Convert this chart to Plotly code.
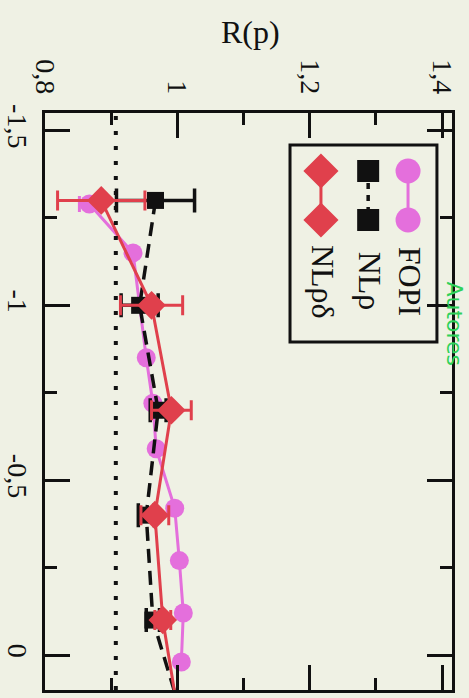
import plotly.graph_objects as go

# ---------------- data ----------------
fopi_y = [-1.29, -1.15, -0.85, -0.72, -0.59, -0.42, -0.27, -0.12, 0.02]
fopi_r = [0.867, 0.933, 0.953, 0.963, 0.968, 0.996, 1.003, 1.009, 1.006]
fopi_err = [0.015, 0, 0, 0, 0, 0, 0, 0, 0]

model_y = [-1.3, -1.0, -0.7, -0.4, -0.1, 0.2]
nlrho_r = [0.967, 0.943, 0.971, 0.953, 0.963, 1.011]
nlrho_err = [0.059, 0.028, 0.012, 0.012, 0.010, 0]
nlrhodelta_r = [0.885, 0.961, 0.991, 0.966, 0.978, 1.004]
nlrhodelta_err = [0.066, 0.047, 0.030, 0.021, 0.012, 0]

ref_r = 0.907

r_ticks = [0.8, 1.0, 1.2, 1.4]
r_ticktext = ["0,8", "1", "1,2", "1,4"]
y_ticks = [-1.5, -1.0, -0.5, 0.0]
y_ticktext = ["-1,5", "-1", "-0,5", "0"]

series_names = ["FOPI", "NLρ", "NLρδ"]

PINK = "#e46fdc"
RED = "#e0404c"
BLACK = "#111111"
BG = "#eff1e4"
FONT = "Liberation Serif"

fig = go.Figure()

fig.add_trace(go.Scatter(
    x=fopi_r, y=fopi_y, mode="lines+markers",
    line=dict(color=PINK, width=3),
    marker=dict(symbol="circle", size=19, color=PINK),
    error_x=dict(type="data", array=fopi_err, color=PINK, thickness=3, width=8),
    showlegend=False))

fig.add_trace(go.Scatter(
    x=nlrho_r, y=model_y, mode="lines+markers",
    line=dict(color=BLACK, width=3.5, dash="14px,8px"),
    marker=dict(symbol="square", size=17, color=BLACK),
    error_x=dict(type="data", array=nlrho_err, color=BLACK, thickness=3.5, width=12),
    showlegend=False))

fig.add_trace(go.Scatter(
    x=nlrhodelta_r, y=model_y, mode="lines+markers",
    line=dict(color=RED, width=3),
    marker=dict(symbol="diamond", size=22, color=RED),
    error_x=dict(type="data", array=nlrhodelta_err, color=RED, thickness=3, width=10),
    showlegend=False))

# ----- hand-built rotated legend (overlay axes in [0,1]) -----
leg_x = [0.892, 0.794, 0.678]
leg_sym_y = [0.8995, 0.8146]
leg_text_y = 0.708
leg_styles = [
    dict(line=dict(color=PINK, width=3), marker=dict(symbol="circle", size=25, color=PINK)),
    dict(line=dict(color=BLACK, width=3.5, dash="6px,6px"), marker=dict(symbol="square", size=22, color=BLACK)),
    dict(line=dict(color=RED, width=3), marker=dict(symbol="diamond", size=27, color=RED)),
]
for lx, st, name in zip(leg_x, leg_styles, series_names):
    fig.add_trace(go.Scatter(x=[lx, lx], y=leg_sym_y, mode="lines+markers",
                             xaxis="x2", yaxis="y2", showlegend=False, **st))
    fig.add_annotation(x=lx + 0.004, y=leg_text_y, xref="paper", yref="paper",
                       text=name, textangle=90, showarrow=False,
                       font=dict(family=FONT, size=32, color=BLACK),
                       xanchor="center", yanchor="middle")

fig.add_shape(type="rect", xref="paper", yref="paper",
              x0=0.602, x1=0.963, y0=0.603, y1=0.9445,
              line=dict(color=BLACK, width=3), fillcolor="rgba(0,0,0,0)")

# dotted reference line
fig.add_shape(type="line", xref="x", yref="paper", x0=ref_r, x1=ref_r, y0=0, y1=1,
              line=dict(color=BLACK, width=4, dash="4px,11px"))

# axis title (upright, above top axis)
fig.add_annotation(x=0.504, y=1.14, xref="paper", yref="paper", text="R(p)",
                   showarrow=False, font=dict(family=FONT, size=32, color=BLACK),
                   xanchor="center", yanchor="middle")

# handwritten green note at right edge
fig.add_annotation(x=1.041, y=0.635, xref="paper", yref="paper", text="Autores",
                   textangle=90, showarrow=False,
                   font=dict(family="DejaVu Sans", size=22, color="#2fd15a"),
                   xanchor="right", yanchor="middle")

axis_common = dict(showgrid=False, zeroline=False, showline=True, linecolor=BLACK,
                   linewidth=3, mirror="allticks", ticks="inside", ticklen=25,
                   tickwidth=3, tickcolor=BLACK, automargin=False,
                   tickfont=dict(family=FONT, size=28, color=BLACK))

fig.update_layout(
    width=469, height=698,
    margin=dict(l=45, r=17, t=113, b=8),
    paper_bgcolor=BG, plot_bgcolor=BG,
    xaxis=dict(range=[0.8, 1.415], side="top", tickmode="array",
               tickvals=r_ticks, ticktext=r_ticktext, tickangle=90,
               minor=dict(dtick=0.1, ticks="inside", ticklen=12, tickwidth=3, tickcolor=BLACK),
               ticklabelstandoff=6, **axis_common),
    yaxis=dict(range=[0.1, -1.55], tickmode="array",
               tickvals=y_ticks, ticktext=y_ticktext, tickangle=90,
               minor=dict(dtick=0.25, ticks="inside", ticklen=12, tickwidth=3, tickcolor=BLACK),
               ticklabelstandoff=0, **axis_common),
    xaxis2=dict(range=[0, 1], overlaying="x", visible=False, fixedrange=True),
    yaxis2=dict(range=[0, 1], overlaying="y", visible=False, fixedrange=True),
)

fig.write_html("out.html", config={"displayModeBar": False},
               post_script="document.body.style.margin='0';document.body.style.padding='0';document.body.style.background='%s';" % BG)
